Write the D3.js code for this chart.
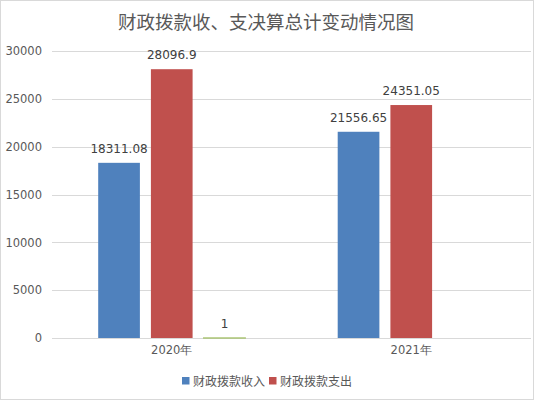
<!DOCTYPE html>
<html><head><meta charset="utf-8">
<script src="https://cdn.jsdelivr.net/npm/d3@7"></script>
<style>body{margin:0;background:#fff}svg{display:block}</style>
</head><body>
<svg id="c" width="535" height="401"></svg>
<script>
const title = "财政拨款收、支决算总计变动情况图";
const categories = ["2020年", "2021年"];
const seriesNames = ["财政拨款收入", "财政拨款支出", "其他"];
const income = [18311.08, 21556.65];
const expense = [28096.9, 24351.05];
const other = [1, null];
const legendSeries = ["财政拨款收入", "财政拨款支出"];
const yTicks = [0, 5000, 10000, 15000, 20000, 25000, 30000];
const colors = ["#4F81BD", "#C0504D", "#9BBB59"];

(function(){
const values = [income, expense, other];
const svg = d3.select("#c");
const font = "'DejaVu Sans', sans-serif";
const cjk = "'Noto Sans CJK SC', sans-serif";
const txt = "#595959";

svg.append("rect").attr("x",0.5).attr("y",0.5).attr("width",533).attr("height",399)
  .attr("fill","#fff").attr("stroke","#d9d9d9");

const pL = 52, pR = 531, pT = 51, pB = 338;
const y = d3.scaleLinear().domain([0, 30000]).range([pB, pT]);
const x0 = d3.scaleBand().domain(categories).range([pL, pR]).padding(0);
const groupFrac = 147.1 / 239.5;
const gw = x0.bandwidth() * groupFrac;
const x1 = d3.scaleBand().domain(seriesNames).range([0, gw]).paddingInner(0.209).paddingOuter(0);
const off = (x0.bandwidth() - gw) / 2;

svg.append("g").selectAll("line").data(yTicks).join("line")
  .attr("x1", pL).attr("x2", pR)
  .attr("y1", d => Math.round(y(d)) + 0.5).attr("y2", d => Math.round(y(d)) + 0.5)
  .attr("stroke", "#d9d9d9").attr("stroke-width", 1);

const yAxis = d3.axisLeft(y).tickValues(yTicks).tickSize(0).tickPadding(0).tickFormat(d3.format("d"));
const ga = svg.append("g").attr("transform", `translate(${pL-10},0)`).call(yAxis);
ga.select(".domain").remove();
ga.selectAll("text").attr("fill", txt).attr("font-family", font).attr("font-size", 11.5);

const data = [];
categories.forEach((c, i) => seriesNames.forEach((s, j) => {
  if (values[j][i] != null) data.push({c, s, j, v: values[j][i]});
}));
const g = svg.append("g");
g.selectAll("rect").data(data).join("rect")
  .attr("x", d => x0(d.c) + off + x1(d.s))
  .attr("width", x1.bandwidth())
  .attr("y", d => y(d.v))
  .attr("height", d => pB - y(d.v))
  .attr("fill", d => colors[d.j])
  .attr("stroke", d => d.j === 2 ? colors[2] : "none")
  .attr("stroke-width", 1.2);

g.selectAll("text").data(data).join("text")
  .attr("x", d => x0(d.c) + off + x1(d.s) + x1.bandwidth()/2)
  .attr("y", d => y(d.v) - 10)
  .attr("text-anchor", "middle")
  .attr("fill", "#404040").attr("font-family", font).attr("font-size", 12)
  .text(d => d.v);

const xAxis = d3.axisBottom(x0).tickSize(0).tickPadding(0);
const gx = svg.append("g").attr("transform", `translate(0,${pB + 8})`).call(xAxis);
gx.select(".domain").remove();
gx.selectAll("text").attr("fill", txt).attr("font-family", font).attr("font-size", 11.5)
  .attr("dy", "0.71em");

svg.append("text").attr("x", 266).attr("y", 29).attr("text-anchor", "middle")
  .attr("fill", txt).attr("font-family", cjk).attr("font-size", 18.5).text(title);

const lx = [182, 269];
const lg = svg.append("g");
legendSeries.forEach((s, i) => {
  lg.append("rect").attr("x", lx[i]).attr("y", 377).attr("width", 7.5).attr("height", 7.5).attr("fill", colors[i]);
  lg.append("text").attr("x", lx[i] + 11).attr("y", 385.5).attr("fill", txt)
    .attr("font-family", cjk).attr("font-size", 12).text(s);
});
})();
</script>
</body></html>
